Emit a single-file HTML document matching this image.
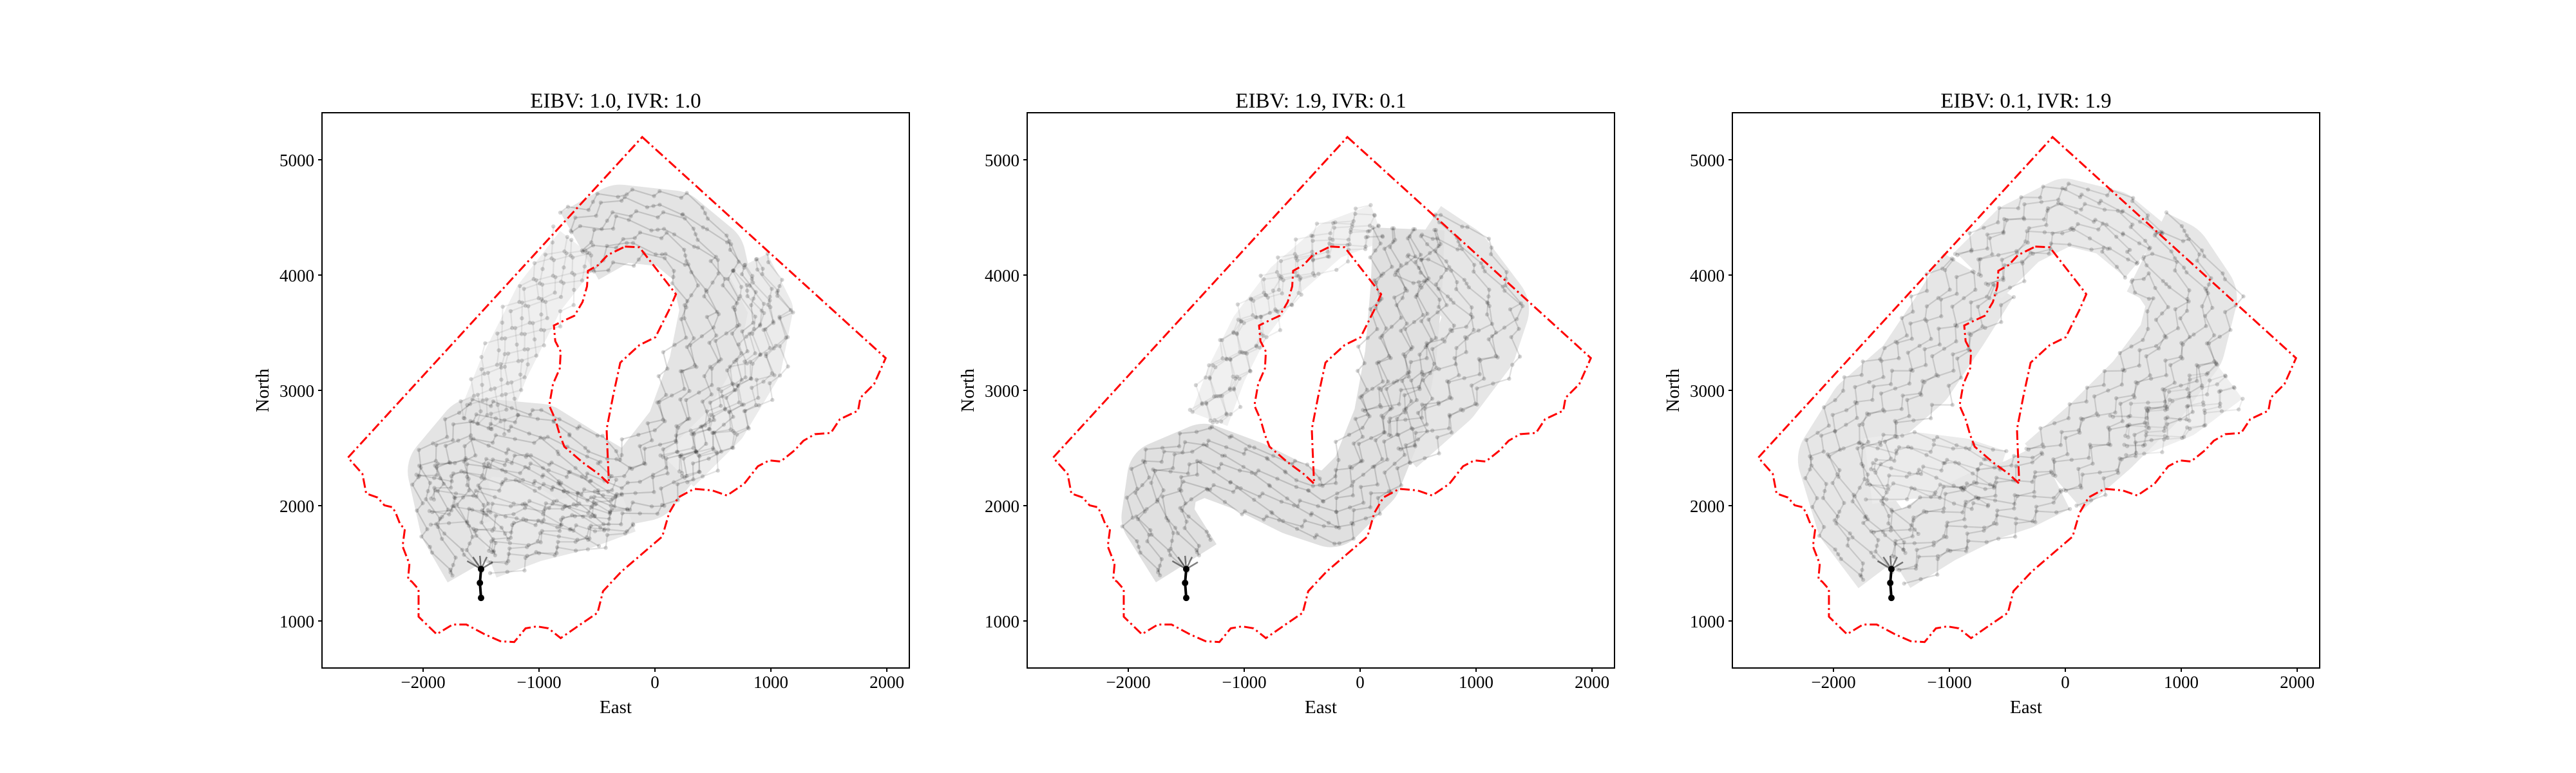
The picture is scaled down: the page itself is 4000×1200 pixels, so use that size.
<!DOCTYPE html>
<html><head><meta charset="utf-8"><style>
html,body{margin:0;padding:0;background:#fff;}
svg{display:block;}
text{font-family:"Liberation Serif",serif;fill:#000;}
</style></head><body>
<svg id="fig" width="4000" height="1200" viewBox="0 0 4000 1200" xmlns="http://www.w3.org/2000/svg"></svg>
<script>
// ---- data ----
const xTicks = [-2000, -1000, 0, 1000, 2000];
const yTicks = [1000, 2000, 3000, 4000, 5000];
const titles = ["EIBV: 1.0, IVR: 1.0", "EIBV: 1.9, IVR: 0.1", "EIBV: 0.1, IVR: 1.9"];
const outerX = [-110,1990,1890,1772,1752,1595,1517,1379,1281,1202,1084,986,888,770,621,495,338,200,122,63,-94,-291,-448,-495,-644,-813,-919,-1018,-1116,-1214,-1332,-1470,-1627,-1745,-1883,-2039,-2039,-2098,-2130,-2118,-2177,-2157,-2196,-2236,-2263,-2334,-2393,-2491,-2523,-2648];
const outerY = [5197,3280,3054,2936,2824,2750,2631,2620,2563,2478,2383,2393,2342,2190,2088,2132,2146,2071,1936,1732,1597,1427,1258,1071,969,851,936,953,936,817,824,885,969,969,885,1037,1275,1342,1360,1495,1647,1800,1834,1936,1986,2003,2071,2105,2275,2417];
const islandX = [-259,-134,181,122,4,-134,-299,-361,-417,-409,-397,-487,-625,-782,-821,-860,-912,-880,-821,-813,-860,-872,-802,-695,-625,-586,-578,-487,-409];
const islandY = [4247,4241,3834,3698,3461,3393,3241,2953,2664,2461,2190,2275,2376,2512,2614,2749,2868,3054,3190,3336,3427,3563,3597,3647,3766,3902,4037,4088,4173];
const startX = [-1500,-1510,-1500];
const startY = [1200,1330,1450];
const fanX = [-1620,-1570,-1510,-1450,-1400];
const fanY = [1520,1555,1565,1555,1510];
// corridor bands per panel: [xs, ys, width (data units), density]
const bands1 = [
 [[-650,-1000,-1300,-1500],[4250,3800,3200,2700],450,0.5],
 [[-1950,-1600,-1150,-700,-400],[2050,2150,2150,2000,1900],550,0.8],
 [[-1500,-1700,-1800,-1550,-1000,-600,-350,-100,250,450,550,450,150,-300,-650],[1500,1850,2300,2600,2550,2300,2150,2200,2650,3200,3700,4150,4400,4450,4250],700,1.0],
 [[-1450,-1050,-650,-250],[1600,1750,1850,2000],500,0.8],
 [[200,600,900,1000,800],[2300,2700,3200,3700,4100],400,0.7]
];
const bands2 = [
 [[-1300,-1150,-950,-650,-250,150],[2750,3150,3550,3950,4300,4450],350,0.45],
 [[250,700,1000,1100,800,500],[2600,3000,3400,3700,4100,4300],750,0.9],
 [[-1500,-1750,-1700,-1350,-950,-550,-250,50,250,350,400,420],[1500,1900,2250,2400,2250,2050,1950,2250,2750,3300,3900,4400],650,1.2]
];
const bands3 = [
 [[500,1000,1400],[2600,2800,3100],450,0.5],
 [[-1500,-1800,-1950,-1700,-1300,-1000,-750],[1500,1900,2400,2800,3150,3600,4000],750,0.9],
 [[-1700,-1300,-900,-600],[2300,2350,2300,2200],600,0.7],
 [[-750,-400,0,400,700],[4000,4350,4550,4450,4200],600,0.8],
 [[-100,300,700,1000,1100,900,700],[2250,2600,3000,3400,3800,4100,4200],800,0.9],
 [[-1500,-1100,-700,-400,-100],[1550,1800,2000,2100,2250],650,0.9]
];
const panelBands = [bands1, bands2, bands3];

// ---- layout ----
const axLefts = [500, 1595, 2690];
const axTop = 175, axW = 912, axH = 862;
const xMin = -2872, xMax = 2194, yMin = 592, yMax = 5408;
const NS = "http://www.w3.org/2000/svg";
const fig = document.getElementById('fig');
function mk(tag, attrs, parent){const e=document.createElementNS(NS,tag);for(const k in attrs)e.setAttribute(k,attrs[k]);(parent||fig).appendChild(e);return e;}

axLefts.forEach((L, pi) => {
  const sx = v => L + (v - xMin) / (xMax - xMin) * axW;
  const sy = v => axTop + (yMax - v) / (yMax - yMin) * axH;
  const k = axW / (xMax - xMin);
  const g = mk('g', {});
  
  
  const clipId = 'clip' + pi;
  const cp = mk('clipPath', {id: clipId}, g);
  mk('rect', {x: L, y: axTop, width: axW, height: axH}, cp);
  const plot = mk('g', {'clip-path': 'url(#' + clipId + ')'}, g);
  
  
  const bandLayer = mk('g', {}, plot);
  const laneLayer = mk('g', {}, plot);

  panelBands[pi].forEach((b, bi) => {
    const xs = b[0], ys = b[1], w = b[2], d = b[3];
    const pts = xs.map((x, i) => sx(x) + ',' + sy(ys[i])).join(' ');
    const lv = Math.round(250 - 22 * d);
    const band = mk('polyline', {points: pts, fill: 'none', stroke: 'rgb(' + lv + ',' + lv + ',' + lv + ')', 'stroke-width': w * k * 0.95, 'stroke-linejoin': 'round', 'stroke-linecap': 'butt'}, bandLayer);
    
    
    const lanes = [-0.42, -0.28, -0.14, 0, 0.14, 0.28, 0.42];
    lanes.forEach((f, li) => {
      const lp = [];
      for (let i = 0; i < xs.length; i++) {
        const i0 = Math.max(0, i - 1), i1 = Math.min(xs.length - 1, i + 1);
        let dx = xs[i1] - xs[i0], dy = ys[i1] - ys[i0];
        const n = Math.hypot(dx, dy) || 1;
        const nx = -dy / n, ny = dx / n;
        const zig = ((i + li) % 2 ? 1 : -1) * 0.06;
        lp.push([xs[i] + nx * w * (f + zig), ys[i] + ny * w * (f + zig)]);
      }
      const dense = [];
      for (let i = 0; i < lp.length - 1; i++) {
        const steps = Math.max(1, Math.round(Math.hypot(lp[i+1][0]-lp[i][0], lp[i+1][1]-lp[i][1]) / 110));
        for (let s = 0; s < steps; s++) {
          const t = s / steps;
          const wob = ((s * 2 + li + i) % 5 - 2) * 28;
          dense.push([lp[i][0] + (lp[i+1][0]-lp[i][0]) * t + wob, lp[i][1] + (lp[i+1][1]-lp[i][1]) * t - wob * 0.7]);
        }
      }
      dense.push(lp[lp.length - 1]);
      const line = mk('polyline', {points: dense.map(p => sx(p[0]) + ',' + sy(p[1])).join(' '), fill: 'none', stroke: '#000', 'stroke-opacity': (0.15 * Math.min(1, d)).toFixed(3), 'stroke-width': 2.2}, laneLayer);
      
      
      dense.forEach(p => {
        const c = mk('circle', {cx: sx(p[0]), cy: sy(p[1]), r: 3.2, fill: '#000', 'fill-opacity': 0.16}, laneLayer);
        
        
      });
    });
  });

  // start path
  fanX.forEach((fx, i) => {
    const l = mk('line', {x1: sx(startX[2]), y1: sy(startY[2]), x2: sx(fx), y2: sy(fanY[i]), stroke: '#000', 'stroke-opacity': 0.5, 'stroke-width': 2.5}, plot);
    
    
  });
  const sp = mk('polyline', {points: startX.map((x, i) => sx(x) + ',' + sy(startY[i])).join(' '), fill: 'none', stroke: '#000', 'stroke-width': 4}, plot);
  
  
  startX.forEach((x, i) => {
    const c = mk('circle', {cx: sx(x), cy: sy(startY[i]), r: 5, fill: '#000'}, plot);
    
    
  });

  // boundaries
  const ob = mk('polygon', {points: outerX.map((x, i) => sx(x) + ',' + sy(outerY[i])).join(' '), fill: 'none', stroke: '#ff0000', 'stroke-width': 3, 'stroke-dasharray': '15,5,3,5'}, plot);
  
  
  const ib = mk('polygon', {points: islandX.map((x, i) => sx(x) + ',' + sy(islandY[i])).join(' '), fill: 'none', stroke: '#ff0000', 'stroke-width': 3, 'stroke-dasharray': '15,5,3,5'}, plot);
  
  

  // frame
  const fr = mk('rect', {x: L, y: axTop, width: axW, height: axH, fill: 'none', stroke: '#000', 'stroke-width': 2}, g);
  
  

  // ticks
  xTicks.forEach(v => {
    const x = sx(v);
    const t = mk('line', {x1: x, y1: axTop + axH, x2: x, y2: axTop + axH + 6, stroke: '#000', 'stroke-width': 2}, g);
    
    
    const tx = mk('text', {x: x, y: axTop + axH + 31, 'font-size': 27, 'text-anchor': 'middle'}, g);
    tx.textContent = v < 0 ? '\u2212' + Math.abs(v) : String(v);
    
    
  });
  yTicks.forEach(v => {
    const y = sy(v);
    const t = mk('line', {x1: L - 6, y1: y, x2: L, y2: y, stroke: '#000', 'stroke-width': 2}, g);
    
    
    const tx = mk('text', {x: L - 12, y: y + 10, 'font-size': 27, 'text-anchor': 'end'}, g);
    tx.textContent = String(v);
    
    
  });
  const xl = mk('text', {x: L + axW / 2, y: axTop + axH + 70, 'font-size': 29, 'text-anchor': 'middle'}, g);
  xl.textContent = 'East';
  
  
  const yl = mk('text', {x: 0, y: 0, 'font-size': 29, 'text-anchor': 'middle', transform: 'translate(' + (L - 83) + ',' + (axTop + axH / 2) + ') rotate(-90)'}, g);
  yl.textContent = 'North';
  
  
  const tt = mk('text', {x: L + axW / 2, y: 167, 'font-size': 33, 'text-anchor': 'middle'}, g);
  tt.textContent = titles[pi];
  
  
});
</script>
</body></html>
